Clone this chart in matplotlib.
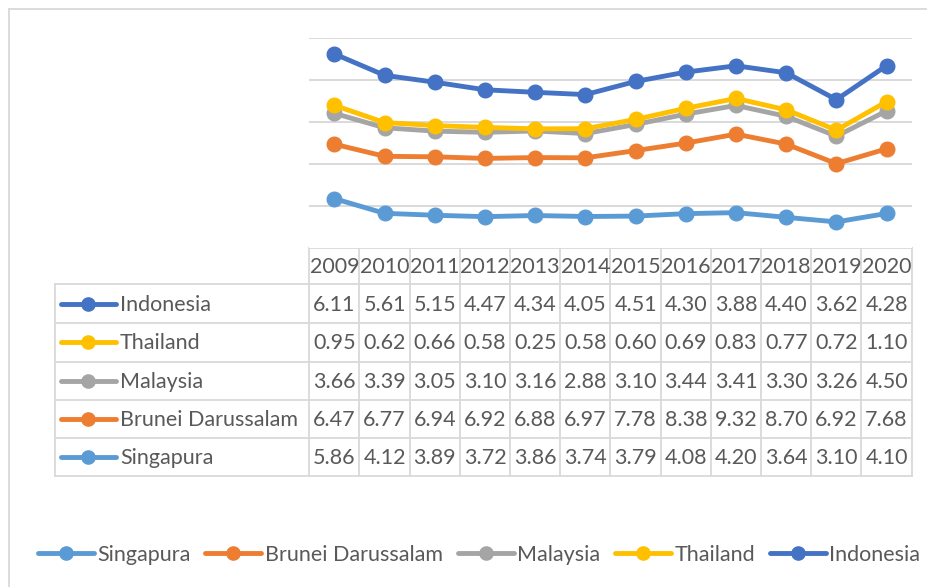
import matplotlib.pyplot as plt
from matplotlib.lines import Line2D

years = ["2009", "2010", "2011", "2012", "2013", "2014",
         "2015", "2016", "2017", "2018", "2019", "2020"]

# series in Excel order (stacked from the bottom up)
countries = ["Singapura", "Brunei Darussalam", "Malaysia", "Thailand", "Indonesia"]
singapura = [5.86, 4.12, 3.89, 3.72, 3.86, 3.74, 3.79, 4.08, 4.20, 3.64, 3.10, 4.10]
brunei = [6.47, 6.77, 6.94, 6.92, 6.88, 6.97, 7.78, 8.38, 9.32, 8.70, 6.92, 7.68]
malaysia = [3.66, 3.39, 3.05, 3.10, 3.16, 2.88, 3.10, 3.44, 3.41, 3.30, 3.26, 4.50]
thailand = [0.95, 0.62, 0.66, 0.58, 0.25, 0.58, 0.60, 0.69, 0.83, 0.77, 0.72, 1.10]
indonesia = [6.11, 5.61, 5.15, 4.47, 4.34, 4.05, 4.51, 4.30, 3.88, 4.40, 3.62, 4.28]
series = [singapura, brunei, malaysia, thailand, indonesia]
colors = ["#5B9BD5", "#ED7D31", "#A5A5A5", "#FFC000", "#4472C4"]

W, H = 928, 587
TXT = "#595959"
GRID = "#D9D9D9"
plt.rcParams["font.family"] = ["Lato", "DejaVu Sans"]

fig = plt.figure(figsize=(W / 100, H / 100), dpi=100)

# table geometry (pixels)
col0 = 309.3
colw = 50.2
x_right = col0 + colw * len(years)
y_head = 248.0
row_lines = [284.3, 323.0, 361.7, 400.0, 437.7, 475.7]
tab_left = 55.0
y_top = 37.5

# chart area aligned with the table columns
ax = fig.add_axes([col0 / W, 1 - y_head / H, (x_right - col0) / W, (y_head - y_top) / H])
x = list(range(len(years)))
cum = [0.0] * len(years)
for name, vals, c in zip(countries, series, colors):
    cum = [a + b for a, b in zip(cum, vals)]
    ax.plot(x, cum, color=c, lw=3.5, marker="o", ms=10.5, solid_capstyle="round", zorder=3)
ax.set_xlim(-0.5, len(years) - 0.5)
ax.set_ylim(0, 25)
ax.set_yticks([5, 10, 15, 20, 25])
ax.grid(axis="y", color=GRID, lw=1.4)
ax.set_axisbelow(True)
ax.tick_params(left=False, bottom=False, labelleft=False, labelbottom=False)
for s in ax.spines.values():
    s.set_visible(False)

# overlay in pixel coords for table, frame and legend
ov = fig.add_axes([0, 0, 1, 1], zorder=-1)
ov.set_xlim(0, W)
ov.set_ylim(H, 0)
ov.axis("off")

# outer frame
ov.plot([9, 9], [H, 9], color=GRID, lw=1.3)
ov.plot([9, W], [9, 9], color=GRID, lw=1.3)

# table grid
ov.plot([col0, x_right], [y_head, y_head], color=GRID, lw=1.3)
for y in row_lines:
    ov.plot([tab_left, x_right], [y, y], color=GRID, lw=1.3)
ov.plot([tab_left, tab_left], [row_lines[0], row_lines[-1]], color=GRID, lw=1.3)
for k in range(len(years) + 1):
    xx = col0 + k * colw
    ov.plot([xx, xx], [y_head, row_lines[-1]], color=GRID, lw=1.3)

fs = 15.5
for k, yr in enumerate(years):
    ov.text(col0 + (k + 0.5) * colw, (y_head + row_lines[0]) / 2 + 1, yr,
            ha="center", va="center", fontsize=fs, color=TXT)

rows = list(zip(countries, series, colors))[::-1]
for r, (name, vals, c) in enumerate(rows):
    yc = (row_lines[r] + row_lines[r + 1]) / 2
    ov.plot([61, 116], [yc, yc], color=c, lw=3.5, solid_capstyle="round")
    ov.plot([88.5], [yc], marker="o", ms=9.5, color=c)
    ov.text(120, yc + 1, name, ha="left", va="center", fontsize=fs, color=TXT)
    for k, v in enumerate(vals):
        ov.text(col0 + (k + 0.5) * colw, yc + 1, f"{v:.2f}",
                ha="center", va="center", fontsize=fs, color=TXT)

# bottom legend
handles = [Line2D([], [], color=c, lw=3.5, marker="o", ms=9.5, solid_capstyle="round")
           for c in colors]
fig.legend(handles, countries, loc="center", bbox_to_anchor=(479 / W, 1 - 555 / H),
           ncol=5, frameon=False, fontsize=fs, labelcolor=TXT,
           handlelength=2.6, handletextpad=0.15, columnspacing=0.7,
           borderpad=0, borderaxespad=0)

fig.savefig("out.png", dpi=100)
